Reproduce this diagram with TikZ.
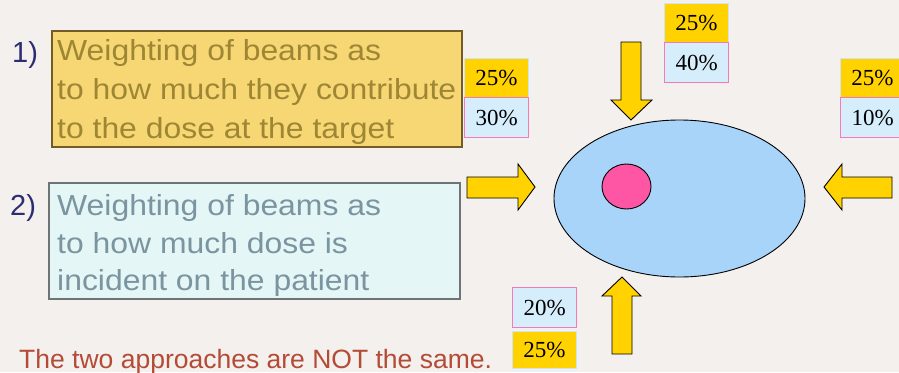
\documentclass[tikz,border=0pt]{standalone}
\usepackage{fontspec}
\usetikzlibrary{shapes.geometric}
\setmainfont{Liberation Sans}
\newfontfamily\boxfont[FakeStretch=1.1]{Liberation Sans}
\newfontfamily\pctfont{Liberation Serif}
\definecolor{bgc}{RGB}{244,240,237}
\definecolor{boxAfill}{RGB}{246,215,115}
\definecolor{boxAdraw}{RGB}{115,92,40}
\definecolor{boxAtext}{RGB}{158,134,52}
\definecolor{boxBfill}{RGB}{228,246,246}
\definecolor{boxBdraw}{RGB}{110,115,118}
\definecolor{boxBtext}{RGB}{122,148,160}
\definecolor{navy}{RGB}{45,45,115}
\definecolor{redtext}{RGB}{180,75,55}
\definecolor{gold}{RGB}{255,210,0}
\definecolor{pctblue}{RGB}{214,238,252}
\definecolor{pctpink}{RGB}{245,120,185}
\definecolor{pctedge}{RGB}{205,230,245}
\definecolor{body}{RGB}{168,212,250}
\definecolor{tumour}{RGB}{255,85,165}
\tikzset{
  pctY/.style={draw=pctedge, line width=0.8pt, fill=gold, minimum width=64pt, minimum height=39pt, inner sep=0pt, font=\pctfont\fontsize{23}{27}\selectfont, text=black},
  pctB/.style={draw=pctpink, line width=1.3pt, fill=pctblue, minimum width=64pt, minimum height=40pt, inner sep=0pt, font=\pctfont\fontsize{23}{27}\selectfont, text=black},
  beam/.style={draw=black, line width=0.9pt, fill=gold, line join=miter},
  boxtxtA/.style={anchor=base west, inner sep=0pt, text=boxAtext, font=\boxfont\fontsize{29}{34}\selectfont},
  boxtxtB/.style={anchor=base west, inner sep=0pt, text=boxBtext, font=\boxfont\fontsize{29}{34}\selectfont},
  numlbl/.style={anchor=base west, inner sep=0pt, text=navy, font=\fontsize{29}{34}\selectfont},
}
\begin{document}
\begin{tikzpicture}[x=1pt, y=-1pt]
\fill[bgc] (0,0) rectangle (899,372);
\useasboundingbox (0,0) rectangle (899,372);

% text boxes
\node[draw=boxAdraw, line width=1.5pt, fill=boxAfill, minimum width=410pt, minimum height=116pt, inner sep=0pt, anchor=north west] (boxA) at (51,30) {};
\node[boxtxtA] (a1) at (57,60) {Weighting of beams as};
\node[boxtxtA] (a2) at (57,99) {to how much they contribute};
\node[boxtxtA] (a3) at (57,138) {to the dose at the target};
\node[numlbl] (n1) at (12,62) {1)};

\node[draw=boxBdraw, line width=1.5pt, fill=boxBfill, minimum width=411pt, minimum height=116pt, inner sep=0pt, anchor=north west] (boxB) at (48,182) {};
\node[boxtxtB] (b1) at (57,215) {Weighting of beams as};
\node[boxtxtB] (b2) at (57,253) {to how much dose is};
\node[boxtxtB] (b3) at (57,290) {incident on the patient};
\node[numlbl] (n2) at (10,215) {2)};

% patient and target
\node[draw=black, line width=0.9pt, fill=body, ellipse, minimum width=251pt, minimum height=157pt, inner sep=0pt] (patient) at (679.5,198.5) {};
\node[draw=black, line width=0.9pt, fill=tumour, ellipse, minimum width=49pt, minimum height=45pt, inner sep=0pt] (target) at (626.5,186.5) {};

% beams
\draw[beam] (621,42) -- (641,42) -- (641,100) -- (652,100) -- (631,120) -- (611,100) -- (621,100) -- cycle;
\draw[beam] (467,177) -- (518,177) -- (518,164) -- (535,187) -- (518,210) -- (518,198) -- (467,198) -- cycle;
\draw[beam] (892,177) -- (842,177) -- (842,164) -- (824,187) -- (842,210) -- (842,198) -- (892,198) -- cycle;
\draw[beam] (612,354) -- (632,354) -- (632,296) -- (641,296) -- (622,277) -- (602,296) -- (612,296) -- cycle;

% weights
\node[pctY, anchor=north west] (yL) at (464,58) {25\%};
\node[pctB, anchor=north west] (bL) at (464,97) {30\%};
\node[pctY, anchor=north west] (yT) at (664,3) {25\%};
\node[pctB, anchor=north west] (bT) at (664,42) {40\%};
\node[pctY, anchor=north west] (yR) at (840,58) {25\%};
\node[pctB, anchor=north west] (bR) at (840,97) {10\%};
\node[pctB, anchor=north west] (bB) at (512,287) {20\%};
\node[pctY, anchor=north west, minimum height=37pt] (yB) at (512,331) {25\%};

% conclusion
\node[anchor=base west, inner sep=0pt, text=redtext, font=\fontsize{26.5}{30}\selectfont] (concl) at (19,368) {The two approaches are NOT the same.};
\end{tikzpicture}
\end{document}
